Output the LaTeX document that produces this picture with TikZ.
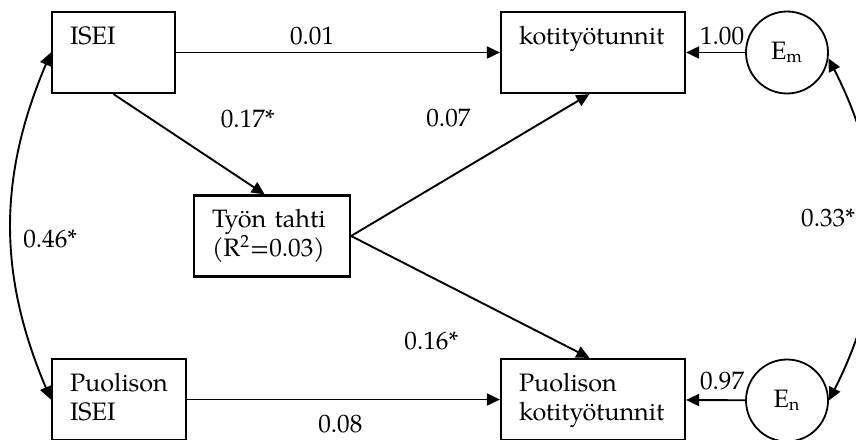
\documentclass[tikz,border=0pt]{standalone}
\usepackage{fontspec}
\setmainfont{texgyrepagella}[Extension=.otf, UprightFont=*-regular, BoldFont=*-bold, ItalicFont=*-italic, BoldItalicFont=*-bolditalic]
\usepackage{tikz}
\usetikzlibrary{arrows.meta, positioning}

\begin{document}
\begin{tikzpicture}[x=0.5pt, y=-0.5pt, node distance=100pt, on grid,
        font=\fontsize{12.6}{14.5}\selectfont,
        >={Triangle[length=6.5pt, width=6pt]},
        var/.style={rectangle, draw, line width=1.1pt, inner xsep=9pt, inner ysep=4pt, text height=12pt, text depth=20.5pt, align=left},
        err/.style={circle, draw, line width=0.9pt, minimum size=41pt, inner sep=0pt},
        link/.style={line width=0.95pt}]

    \useasboundingbox (0,0) rectangle (856,439);

    \node[var, text width=43.5pt] (isei) at (113.5,52.5) {ISEI};
    \node[var, text width=74pt, right=239.75pt of isei] (koti) {kotityötunnit};
    \node[err, right=97pt of koti] (em) {E\textsubscript{m}};

    \node[var, text width=60pt, below right=91.75pt and 79.25pt of isei] (tahti) {Työn tahti\\(R\textsuperscript{2}=0.03)};

    \node[var, text width=49pt, below right=173.5pt and 2.75pt of isei] (pisei) {Puolison\\ISEI};
    \node[var, text width=74pt, below=173.5pt of koti] (pkoti) {Puolison\\kotityötunnit};
    \node[err, below=174pt of em] (en) {E\textsubscript{n}};

    \path[->, link]
    (isei) edge node[pos=0.42, above] {0.01} (koti)
    (em) edge node[pos=0.39, above] {1.00} (koti)
    (isei.south) edge node[pos=0.3, xshift=44.5pt, yshift=2.8pt] {0.17*} (tahti.100)
    (tahti.east) edge node[pos=0.4, xshift=1pt, yshift=30.5pt] {0.07} (koti.-95)
    (tahti.east) edge node[pos=0.4, xshift=-7.5pt, yshift=-28pt] {0.16*} (pkoti.95)
    (pisei) edge node[pos=0.49, below, yshift=-4pt] {0.08} (pkoti)
    (en) edge node[pos=0.39, above, yshift=1.5pt] {0.97} (pkoti);

    \path[<->, link]
    (isei.west) edge[bend right=23] node[pos=0.5, xshift=19.5pt, yshift=-6.5pt] {0.46*} (pisei.west)
    (en.east) edge[bend right=27] node[pos=0.5, xshift=-23pt, yshift=5.5pt] {0.33*} (em.-8);

\end{tikzpicture}
\end{document}
